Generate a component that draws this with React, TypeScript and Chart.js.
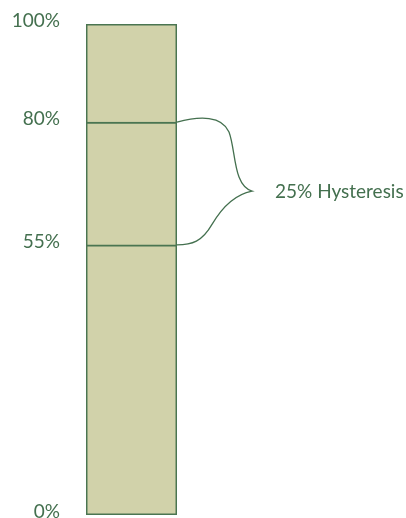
import React, { useEffect, useRef } from "react";
import { Chart, registerables } from "chart.js";

Chart.register(...registerables);

// Threshold levels (percent) and their axis labels
const levels = [0, 55, 80, 100];
const levelLabels = ["0%", "55%", "80%", "100%"];
// Band boundaries (floating bar segments)
const bandStarts = [0, 55, 80];
const bandEnds = [55, 80, 100];
const bandNames = ["Off zone", "Hysteresis band", "On zone"];
// Annotation
const braceFrom = 80;
const braceTo = 55;
const annotationText = "25% Hysteresis";

const TEXT = "#44704f";
const FILL = "#d1d2aa";
const EDGE = "#4a7551";
const FONT = "Lato";

const bracePlugin = {
  id: "brace",
  afterDatasetsDraw(chart: any) {
    const { ctx, chartArea, scales } = chart;
    const y = scales.y;
    const R = chartArea.right;
    const yA = y.getPixelForValue(braceFrom);
    const yB = y.getPixelForValue(braceTo);
    const h = yB - yA;
    const P = (dx: number, f: number): [number, number] => [R + dx, yA + f * h];
    ctx.save();
    ctx.strokeStyle = TEXT;
    ctx.lineWidth = 1.3;
    ctx.beginPath();
    const p = P(0, 0);
    ctx.moveTo(p[0], p[1]);
    const seg = (a: [number, number], b: [number, number], c: [number, number]) =>
      ctx.bezierCurveTo(a[0], a[1], b[0], b[1], c[0], c[1]);
    seg(P(23, -0.053), P(45, -0.053), P(52, 0.079));
    seg(P(59, 0.228), P(56, 0.518), P(75, 0.561));
    seg(P(58, 0.588), P(45, 0.693), P(35, 0.833));
    seg(P(25, 0.974), P(15, 1.0), P(0, 1.0));
    ctx.stroke();
    const tip = P(98, 0.561);
    ctx.fillStyle = TEXT;
    ctx.font = `19px ${FONT}`;
    ctx.textAlign = "left";
    ctx.textBaseline = "middle";
    ctx.fillText(annotationText, tip[0], tip[1] + 1);
    ctx.restore();
  },
};

export default function App() {
  const ref = useRef<HTMLCanvasElement>(null);
  useEffect(() => {
    if (!ref.current) return;
    const chart = new Chart(ref.current, {
      type: "bar",
      data: {
        labels: [""],
        datasets: bandStarts.map((s, i) => ({
          label: bandNames[i],
          data: [[s, bandEnds[i]]] as any,
          backgroundColor: FILL,
          borderColor: EDGE,
          borderWidth: 1.8,
          borderSkipped: i === 0 ? false : "bottom",
          categoryPercentage: 1,
          barPercentage: 1,
        })),
      },
      options: {
        animation: false,
        responsive: false,
        layout: { padding: { top: 24, bottom: 3, left: 0, right: 229 } },
        plugins: { legend: { display: false }, tooltip: { enabled: false } },
        scales: {
          x: { display: false, stacked: true },
          y: {
            min: 0,
            max: 100,
            afterBuildTicks: (scale: any) => {
              scale.ticks = levels.map((v) => ({ value: v }));
            },
            afterFit: (scale: any) => {
              scale.width = 86;
              scale.paddingTop = 0;
              scale.paddingBottom = 0;
            },
            ticks: {
              callback: (v: any) => levelLabels[levels.indexOf(Number(v))] ?? "",
              color: TEXT,
              font: { family: FONT, size: 19 },
              padding: 26,
              labelOffset: -3,
              autoSkip: false,
            },
            grid: { display: false, drawTicks: false },
            border: { display: false },
          },
        },
      },
      plugins: [bracePlugin],
    });
    return () => chart.destroy();
  }, []);
  return (
    <div style={{ position: "absolute", left: 0, top: 0, width: 406, height: 518, background: "#fff" }}>
      <canvas ref={ref} width={406} height={518} />
    </div>
  );
}
